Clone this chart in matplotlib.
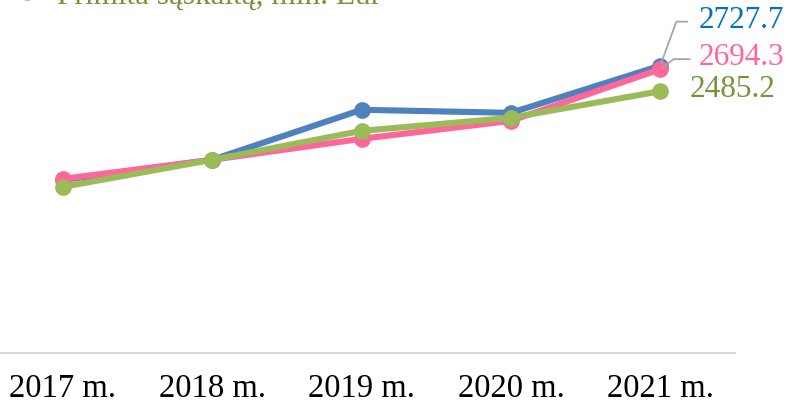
import matplotlib
matplotlib.use('Agg')
import matplotlib.pyplot as plt
from matplotlib.lines import Line2D

# duomenys
years = ['2017 m.', '2018 m.', '2019 m.', '2020 m.', '2021 m.']
blue_vals = [1643, 1834, 2309, 2280, 2727.7]
pink_vals = [1653, 1834, 2033, 2204, 2694.3]
green_vals = [1577, 1834, 2109, 2233, 2485.2]
legend_text = 'Primita sąskaitą, mln. Eur'

blue = '#4F81BD'
pink = '#FF6699'
green = '#9BBB59'
blue_txt = '#0070C0'
pink_txt = '#FF6699'
green_txt = '#77933C'

plt.rcParams['font.family'] = ['Liberation Serif', 'DejaVu Serif']

W, H = 791, 408
fig = plt.figure(figsize=(W / 100, H / 100), dpi=100)
ax = fig.add_axes([-12 / W, (H - 353) / H, 747 / W, 316 / H])

x = list(range(len(years)))
ax.plot(x, blue_vals, color=blue, lw=4.4, marker='o', ms=11, solid_capstyle='round')
ax.plot(x, pink_vals, color=pink, lw=4.4, marker='o', ms=11, solid_capstyle='round')
ax.plot(x, green_vals, color=green, lw=4.4, marker='o', ms=11, solid_capstyle='round')

ax.set_xlim(-0.5, 4.5)
ax.set_ylim(0, 3000)
for s in ['top', 'right', 'left']:
    ax.spines[s].set_visible(False)
ax.spines['bottom'].set_color('#D9D9D9')
ax.spines['bottom'].set_linewidth(1.5)
ax.set_yticks([])
ax.set_xticks(x)
ax.set_xticklabels(years, fontsize=23.5)
ax.tick_params(axis='x', length=0, pad=15)

# reiksmiu etiketes su linijomis
last = len(years) - 1
ax.annotate(f'{blue_vals[-1]:.1f}', xy=(last, blue_vals[-1]), xytext=(38, 38),
            textcoords='offset pixels', fontsize=22.5, color=blue_txt, va='baseline',
            arrowprops=dict(arrowstyle='-', color='#A6A6A6', lw=1.3,
                            connectionstyle='angle,angleA=0,angleB=70,rad=0',
                            relpos=(0, 0.45), shrinkA=6, shrinkB=2))
ax.annotate(f'{pink_vals[-1]:.1f}', xy=(last, pink_vals[-1]), xytext=(38, 4),
            textcoords='offset pixels', fontsize=22.5, color=pink_txt, va='baseline',
            arrowprops=dict(arrowstyle='-', color='#A6A6A6', lw=1.3,
                            connectionstyle='angle,angleA=0,angleB=37,rad=0',
                            relpos=(0, 0.45), shrinkA=4, shrinkB=2))
ax.annotate(f'{green_vals[-1]:.1f}', xy=(last, green_vals[-1]), xytext=(29, -6),
            textcoords='offset pixels', fontsize=22.5, color=green_txt, va='baseline')

# legendos dalis, nukirsta virsuje kaip ir originale
fig.text(57 / W, 1 - 3.5 / H, legend_text, fontsize=22.5, color=green_txt, va='baseline')
fig.add_artist(Line2D([27 / W], [1 + 8 / H], marker='o', ms=11, color=green,
                      transform=fig.transFigure, clip_on=False))

fig.savefig('out.png', dpi=100)
